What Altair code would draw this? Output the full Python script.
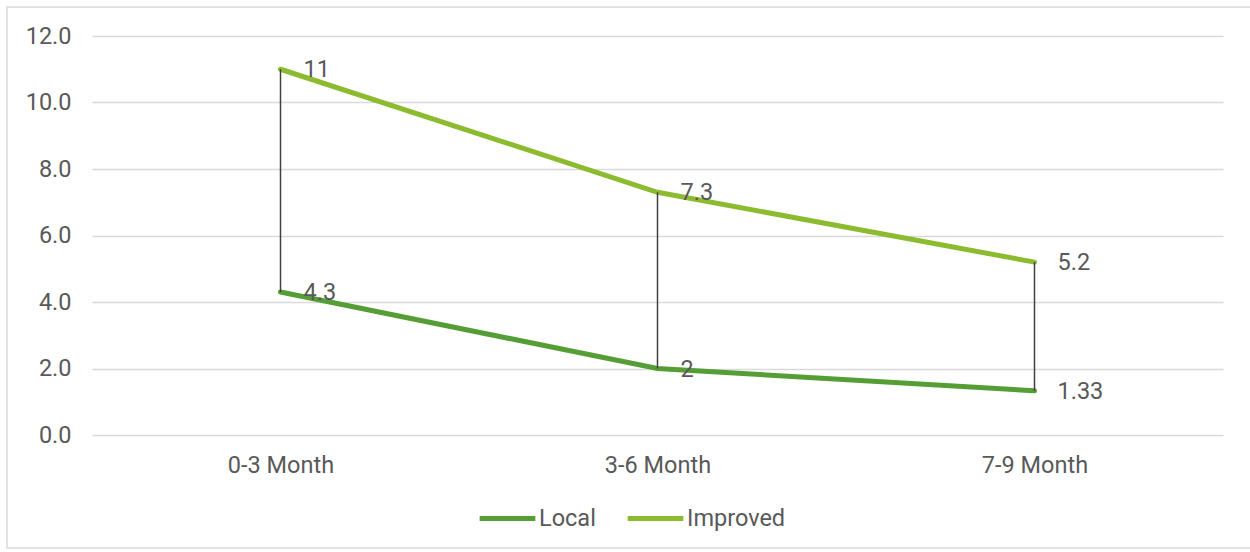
import altair as alt
import pandas as pd

categories = ["0-3 Month", "3-6 Month", "7-9 Month"]
local_values = [4.3, 2, 1.33]
improved_values = [11, 7.3, 5.2]
series_names = ["Local", "Improved"]
series_colors = ["#559D35", "#8CBB2F"]

rows = []
for c, v in zip(categories, local_values):
    rows.append({"category": c, "series": "Local", "value": v})
for c, v in zip(categories, improved_values):
    rows.append({"category": c, "series": "Improved", "value": v})
df = pd.DataFrame(rows)

hl = pd.DataFrame({"category": categories, "low": local_values, "high": improved_values})

FONT = "Roboto"
TXT = "#595959"
FS = 23.5
W, H = 1131, 399

x_enc = alt.X("category:N", sort=categories, title=None,
              scale=alt.Scale(type="point", padding=0.5),
              axis=alt.Axis(labelAngle=0, ticks=False, domain=False, grid=False,
                            labelPadding=18, labelFontSize=FS, labelColor=TXT, labelFont=FONT))

y_scale = alt.Scale(domain=[0, 12], nice=False)

frame = alt.Chart(pd.DataFrame({"a": [0]})).mark_rect(
    fill=None, stroke="#D9D9D9", strokeWidth=1.5
).encode(x=alt.value(-85), x2=alt.value(W + 40), y=alt.value(-29), y2=alt.value(H + 113))

lines = alt.Chart(df).mark_line(strokeWidth=5, strokeCap="round").encode(
    x=x_enc,
    y=alt.Y("value:Q", scale=y_scale, title=None,
            axis=alt.Axis(values=[0, 2, 4, 6, 8, 10, 12], format=".1f", ticks=False, domain=False,
                          gridColor="#D9D9D9", gridWidth=1.5, labelPadding=21,
                          labelFontSize=FS, labelColor=TXT, labelFont=FONT)),
    color=alt.Color("series:N", sort=series_names,
                    scale=alt.Scale(domain=series_names, range=series_colors),
                    legend=alt.Legend(title=None, orient="none", direction="horizontal",
                                      legendX=385, legendY=452, symbolType="stroke",
                                      symbolSize=3100, symbolStrokeWidth=5, labelOffset=1,
                                      columnPadding=21, labelFontSize=FS, labelColor=TXT,
                                      labelFont=FONT)),
)

rules = alt.Chart(hl).mark_rule(color="#404040", strokeWidth=1.5).encode(
    x=alt.X("category:N", sort=categories, scale=alt.Scale(type="point", padding=0.5)),
    y=alt.Y("low:Q", scale=y_scale),
    y2="high:Q",
)

labels = alt.Chart(df).mark_text(align="left", baseline="middle", dx=23, dy=1,
                                 fontSize=FS, font=FONT, color=TXT).encode(
    x=alt.X("category:N", sort=categories, scale=alt.Scale(type="point", padding=0.5)),
    y=alt.Y("value:Q", scale=y_scale),
    text=alt.Text("value:Q"),
)

chart = alt.layer(frame, lines, rules, labels).properties(
    width=W, height=H,
    autosize=alt.AutoSizeParams(type="none"),
    padding={"left": 92, "top": 36, "right": 27, "bottom": 117},
    background="white",
).configure_view(stroke="transparent", strokeWidth=0)

chart.save("out.html", embed_options={"renderer": "svg", "actions": False})
